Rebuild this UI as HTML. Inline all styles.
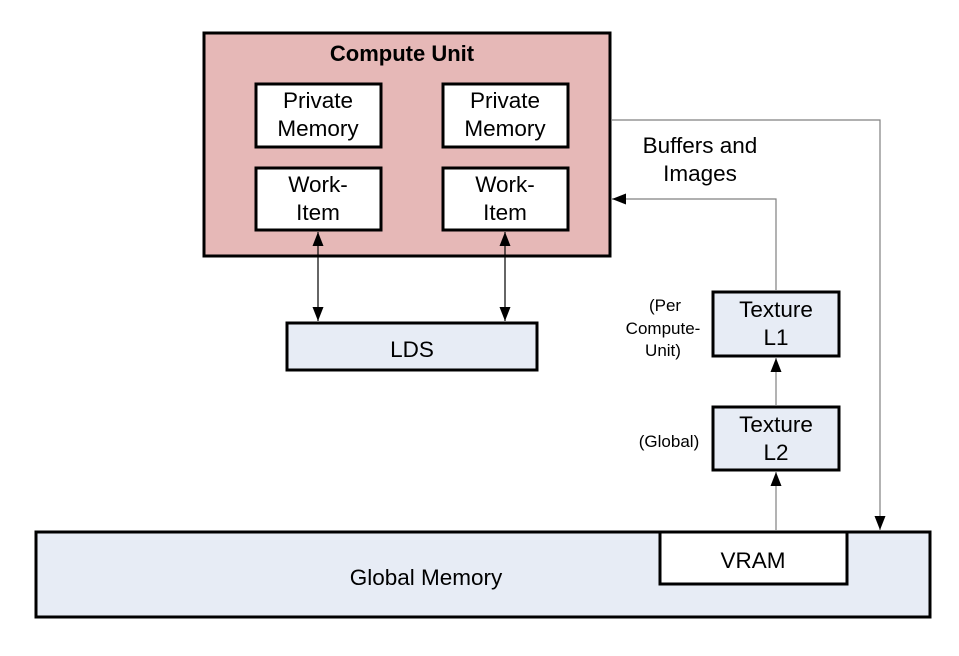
<!DOCTYPE html>
<html><head><meta charset="utf-8"><style>
body{margin:0;background:#fff}
svg text{font-family:"Liberation Sans",Arial,sans-serif;fill:#000}
</style></head><body>
<svg width="959" height="651" viewBox="0 0 959 651" xmlns="http://www.w3.org/2000/svg">
<defs>
<marker id="a" viewBox="0 0 14 11" refX="14" refY="5.5" markerWidth="14" markerHeight="11" markerUnits="userSpaceOnUse" orient="auto-start-reverse"><path d="M0,0L14,5.5L0,11z" fill="#000"/></marker>
</defs>
<rect x="36" y="532" width="894" height="85" fill="#e7ecf5" stroke="#000" stroke-width="3"/>
<text x="426" y="585" font-size="22.5" text-anchor="middle">Global Memory</text>
<rect x="660" y="532" width="187" height="52" fill="#fff" stroke="#000" stroke-width="3"/>
<text x="753" y="568" font-size="22.5" text-anchor="middle">VRAM</text>
<rect x="204" y="33" width="406" height="223" fill="#e6b8b7" stroke="#000" stroke-width="3"/>
<text x="402" y="61" font-size="22" font-weight="bold" text-anchor="middle">Compute Unit</text>
<g fill="#fff" stroke="#000" stroke-width="3">
<rect x="256" y="84" width="125" height="63"/><rect x="443" y="84" width="125" height="63"/>
<rect x="256" y="168" width="125" height="62"/><rect x="443" y="168" width="125" height="62"/>
</g>
<g font-size="22.5" text-anchor="middle">
<text x="318" y="108">Private</text><text x="318" y="136">Memory</text>
<text x="505" y="108">Private</text><text x="505" y="136">Memory</text>
<text x="318" y="192">Work-</text><text x="318" y="220">Item</text>
<text x="505" y="192">Work-</text><text x="505" y="220">Item</text>
</g>
<rect x="287" y="323" width="250" height="47" fill="#e7ecf5" stroke="#000" stroke-width="3"/>
<text x="412" y="357" font-size="22.5" text-anchor="middle">LDS</text>
<g stroke="#000" stroke-width="1.2" marker-start="url(#a)" marker-end="url(#a)">
<line x1="318" y1="232" x2="318" y2="321"/><line x1="505" y1="232" x2="505" y2="321"/>
</g>
<rect x="713" y="292" width="126" height="64" fill="#e7ecf5" stroke="#000" stroke-width="3"/>
<text x="776" y="317" font-size="22.5" text-anchor="middle">Texture</text><text x="776" y="345" font-size="22.5" text-anchor="middle">L1</text>
<rect x="713" y="407" width="126" height="63" fill="#e7ecf5" stroke="#000" stroke-width="3"/>
<text x="776" y="432" font-size="22.5" text-anchor="middle">Texture</text><text x="776" y="460" font-size="22.5" text-anchor="middle">L2</text>
<g stroke="#808080" stroke-width="1.2" fill="none">
<polyline points="611,120 880,120 880,530" marker-end="url(#a)"/>
<polyline points="776,290 776,199 612,199" marker-end="url(#a)"/>
<line x1="776" y1="405" x2="776" y2="358" marker-end="url(#a)"/>
<line x1="776" y1="530" x2="776" y2="472" marker-end="url(#a)"/>
</g>
<g font-size="22.5" text-anchor="middle">
<text x="700" y="153">Buffers and</text><text x="700" y="181">Images</text>
</g>
<g font-size="17" text-anchor="middle">
<text x="665" y="311">(Per</text><text x="663" y="334">Compute-</text><text x="663" y="356">Unit)</text>
<text x="669" y="447">(Global)</text>
</g>
</svg>
</body></html>
